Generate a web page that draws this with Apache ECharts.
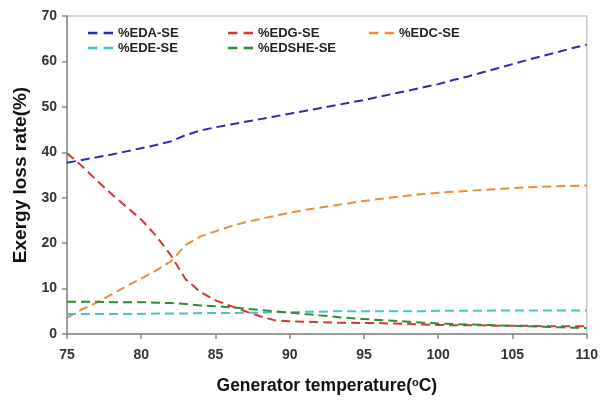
<!DOCTYPE html>
<html>
<head>
<meta charset="utf-8">
<script src="https://cdn.jsdelivr.net/npm/echarts@6/dist/echarts.min.js"></script>
<style>
  html, body { margin: 0; padding: 0; background: #fff; }
  #chart { width: 601px; height: 403px; }
</style>
</head>
<body>
<div id="chart"></div>
<script>
// generator temperature, degC
const temps = [75, 76, 77, 78, 79, 80, 81, 82, 83, 84, 85, 86, 87, 88, 89, 90, 91, 92,
  93, 94, 95, 96, 97, 98, 99, 100, 101, 102, 103, 104, 105, 106, 107, 108, 109, 110]

const edaSE = [37.7, 38.3, 38.9, 39.5, 40.2, 40.9, 41.6, 42.4, 43.8, 44.8, 45.5, 46.1,
  46.7, 47.3, 47.9, 48.5, 49.1, 49.7, 50.3, 50.9, 51.5, 52.2, 52.9, 53.6, 54.3, 55.0,
  55.9, 56.7, 57.6, 58.5, 59.4, 60.3, 61.2, 62.0, 62.9, 63.7]
const edgSE = [39.8, 37.0, 33.8, 30.8, 28.0, 25.2, 21.6, 17.3, 12.0, 9.2, 7.4, 6.2,
  5.0, 3.9, 3.0, 2.8, 2.7, 2.6, 2.5, 2.5, 2.4, 2.4, 2.3, 2.2, 2.1, 2.0,
  1.9, 1.9, 1.9, 1.8, 1.8, 1.8, 1.7, 1.7, 1.7, 1.7]
const edcSE = [3.6, 5.4, 6.9, 8.7, 10.5, 12.2, 14.0, 16.0, 19.6, 21.5, 22.6, 23.7,
  24.6, 25.3, 26.0, 26.7, 27.3, 27.8, 28.3, 28.8, 29.3, 29.7, 30.1, 30.5, 30.8, 31.1,
  31.3, 31.5, 31.7, 31.9, 32.1, 32.3, 32.4, 32.5, 32.6, 32.7]
const edeSE = [4.4, 4.4, 4.4, 4.4, 4.4, 4.4, 4.5, 4.5, 4.5, 4.6, 4.6, 4.6,
  4.7, 4.7, 4.8, 4.8, 4.9, 4.9, 5.0, 5.0, 5.0, 5.0, 5.0, 5.0, 5.0, 5.1,
  5.1, 5.1, 5.1, 5.2, 5.2, 5.2, 5.2, 5.2, 5.2, 5.2]
const edsheSE = [7.1, 7.1, 7.1, 7.0, 7.0, 7.0, 6.9, 6.8, 6.6, 6.3, 6.1, 5.9,
  5.6, 5.3, 5.0, 4.7, 4.4, 4.1, 3.8, 3.5, 3.3, 3.1, 2.9, 2.7, 2.5, 2.3,
  2.2, 2.1, 2.0, 1.9, 1.8, 1.7, 1.6, 1.5, 1.4, 1.3]

const xTicks = [75, 80, 85, 90, 95, 100, 105, 110]
const yTicks = [0, 10, 20, 30, 40, 50, 60, 70]

const font = '"Liberation Sans", Arial, sans-serif'
// two short dashes for the legend swatch
const dashIcon = 'path://M0,0H9V2.2H0Z M15,0H24V2.2H15Z'

function makeSeries(name, values, color) {
  return {
    name: name,
    type: 'line',
    showSymbol: false,
    symbol: 'none',
    data: temps.map((t, i) => [t, values[i]]),
    lineStyle: { color: color, width: 2, type: [9, 5] },
    itemStyle: { color: color },
    animation: false
  }
}

function legendCol(left, names) {
  return {
    orient: 'vertical',
    left: left,
    top: 26,
    padding: 0,
    icon: dashIcon,
    itemWidth: 25,
    itemHeight: 2.3,
    itemGap: 1,
    data: names,
    textStyle: { fontFamily: font, fontWeight: 'bold', fontSize: 13, color: '#222', lineHeight: 14 }
  }
}

const chart = echarts.init(document.getElementById('chart'))
chart.setOption({
  backgroundColor: '#fff',
  grid: {
    left: 67,
    right: 12,
    top: 16,
    bottom: 69,
    show: true,
    borderColor: '#c8c8c8',
    borderWidth: 1.5
  },
  legend: [
    legendCol(88, ['%EDA-SE', '%EDE-SE']),
    legendCol(228, ['%EDG-SE', '%EDSHE-SE']),
    legendCol(369, ['%EDC-SE'])
  ],
  xAxis: {
    type: 'value',
    min: xTicks[0],
    max: xTicks[xTicks.length - 1],
    interval: 5,
    name: 'Generator temperature({sup|o}C)',
    nameLocation: 'middle',
    nameGap: 43,
    nameTextStyle: {
      fontFamily: font, fontWeight: 'bold', fontSize: 17.5, color: '#111',
      rich: { sup: { fontFamily: font, fontSize: 11, fontWeight: 'bold', color: '#111', verticalAlign: 'top', padding: [0, 0, 8, 0] } }
    },
    splitLine: { show: false },
    axisLine: { lineStyle: { color: '#888', width: 1.5 } },
    axisTick: { inside: false, length: 5, lineStyle: { color: '#888', width: 1.5 } },
    axisLabel: { margin: 14, fontFamily: font, fontWeight: 'bold', fontSize: 14, color: '#333' }
  },
  yAxis: {
    type: 'value',
    min: yTicks[0],
    max: yTicks[yTicks.length - 1],
    interval: 10,
    name: 'Exergy loss rate(%)',
    nameLocation: 'middle',
    nameGap: 33,
    nameTextStyle: { fontFamily: font, fontWeight: 'bold', fontSize: 19, color: '#111' },
    splitLine: { show: false },
    axisLine: { show: true, lineStyle: { color: '#888', width: 1.5 } },
    axisTick: { show: true, inside: false, length: 5, lineStyle: { color: '#888', width: 1.5 } },
    axisLabel: { margin: 10, fontFamily: font, fontWeight: 'bold', fontSize: 14, color: '#333' }
  },
  series: [
    makeSeries('%EDA-SE', edaSE, '#2b2bb5'),
    makeSeries('%EDG-SE', edgSE, '#dd3333'),
    makeSeries('%EDC-SE', edcSE, '#ee8c3a'),
    makeSeries('%EDE-SE', edeSE, '#45c6c6'),
    makeSeries('%EDSHE-SE', edsheSE, '#2e8b3a')
  ]
})
</script>
</body>
</html>
